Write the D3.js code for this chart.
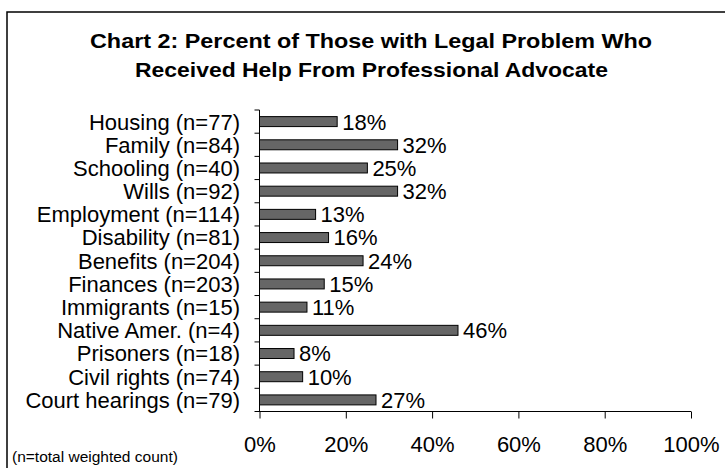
<!DOCTYPE html>
<html lang="en">
  <head>
    <meta charset="UTF-8" />
    <title>Chart 2</title>
    <script src="https://cdn.jsdelivr.net/npm/d3@7"></script>
    <style>
      body { margin: 0; background: #fff; }
      svg { display: block; font-family: "Liberation Sans", Arial, sans-serif; }
    </style>
  </head>
  <body>
    <svg width="725" height="468"></svg>
    <script>
      const categories = [
        "Housing (n=77)", "Family (n=84)", "Schooling (n=40)", "Wills (n=92)",
        "Employment (n=114)", "Disability (n=81)", "Benefits (n=204)",
        "Finances (n=203)", "Immigrants (n=15)", "Native Amer. (n=4)",
        "Prisoners (n=18)", "Civil rights (n=74)", "Court hearings (n=79)"
      ];
      const values = [18, 32, 25, 32, 13, 16, 24, 15, 11, 46, 8, 10, 27];
      const xTicks = [0, 20, 40, 60, 80, 100];

      const svg = d3.select("svg");

      // outer frame, runs off the right and bottom edges
      svg.append("rect")
        .attr("x", 7).attr("y", 12)
        .attr("width", 740).attr("height", 480)
        .attr("fill", "none").attr("stroke", "#000").attr("stroke-width", 1.5);

      const title = svg.append("g").attr("font-weight", "bold").attr("font-size", 20.5);
      title.append("text").attr("x", 371).attr("y", 48).attr("text-anchor", "middle")
        .attr("textLength", 562).attr("lengthAdjust", "spacingAndGlyphs")
        .text("Chart 2:  Percent of Those with Legal Problem Who");
      title.append("text").attr("x", 371.5).attr("y", 77).attr("text-anchor", "middle")
        .attr("textLength", 473).attr("lengthAdjust", "spacingAndGlyphs")
        .text("Received Help From Professional Advocate");

      const plotL = 259.5, plotR = 691, plotT = 110, plotB = 411.5;
      const fs = 22;

      const x = d3.scaleLinear().domain([0, 100]).range([plotL, plotR]);
      const y = d3.scaleBand().domain(categories).range([plotT, plotB]).paddingInner(0.57).paddingOuter(0.285);

      // bars
      svg.append("g").selectAll("rect")
        .data(values)
        .join("rect")
        .attr("x", x(0))
        .attr("y", (d, i) => y(categories[i]))
        .attr("width", d => x(d) - x(0))
        .attr("height", y.bandwidth())
        .attr("fill", "#666")
        .attr("stroke", "#000")
        .attr("stroke-width", 1);

      // value labels
      svg.append("g").attr("font-size", fs).selectAll("text")
        .data(values)
        .join("text")
        .attr("x", d => x(d) + 5)
        .attr("y", (d, i) => y(categories[i]) + y.bandwidth() / 2)
        .attr("dy", "0.36em")
        .text(d => d + "%");

      // y axis: line + ticks between categories
      const yAxis = svg.append("g");
      yAxis.append("line")
        .attr("x1", plotL).attr("x2", plotL).attr("y1", plotT).attr("y2", plotB)
        .attr("stroke", "#000");
      const step = (plotB - plotT) / categories.length;
      yAxis.selectAll(".tk")
        .data(d3.range(categories.length))
        .join("line")
        .attr("x1", plotL - 5).attr("x2", plotL)
        .attr("y1", i => plotT + i * step).attr("y2", i => plotT + i * step)
        .attr("stroke", "#000");
      yAxis.selectAll("text")
        .data(categories)
        .join("text")
        .attr("x", 240)
        .attr("y", d => y(d) + y.bandwidth() / 2)
        .attr("dy", "0.36em")
        .attr("text-anchor", "end")
        .attr("font-size", fs)
        .text(d => d);

      // x axis
      const xAxis = svg.append("g")
        .attr("transform", `translate(0,${plotB})`)
        .call(d3.axisBottom(x).tickValues(xTicks).tickFormat(d => d + "%").tickSize(7).tickPadding(18));
      xAxis.select(".domain").attr("d", `M${plotL - 5},0H${plotR}`);
      xAxis.selectAll("text").attr("font-size", fs).attr("font-family", "Liberation Sans, Arial, sans-serif").attr("fill", "#000");

      svg.append("text")
        .attr("x", 12).attr("y", 462)
        .attr("font-size", 15.5)
        .text("(n=total weighted count)");
    </script>
  </body>
</html>
